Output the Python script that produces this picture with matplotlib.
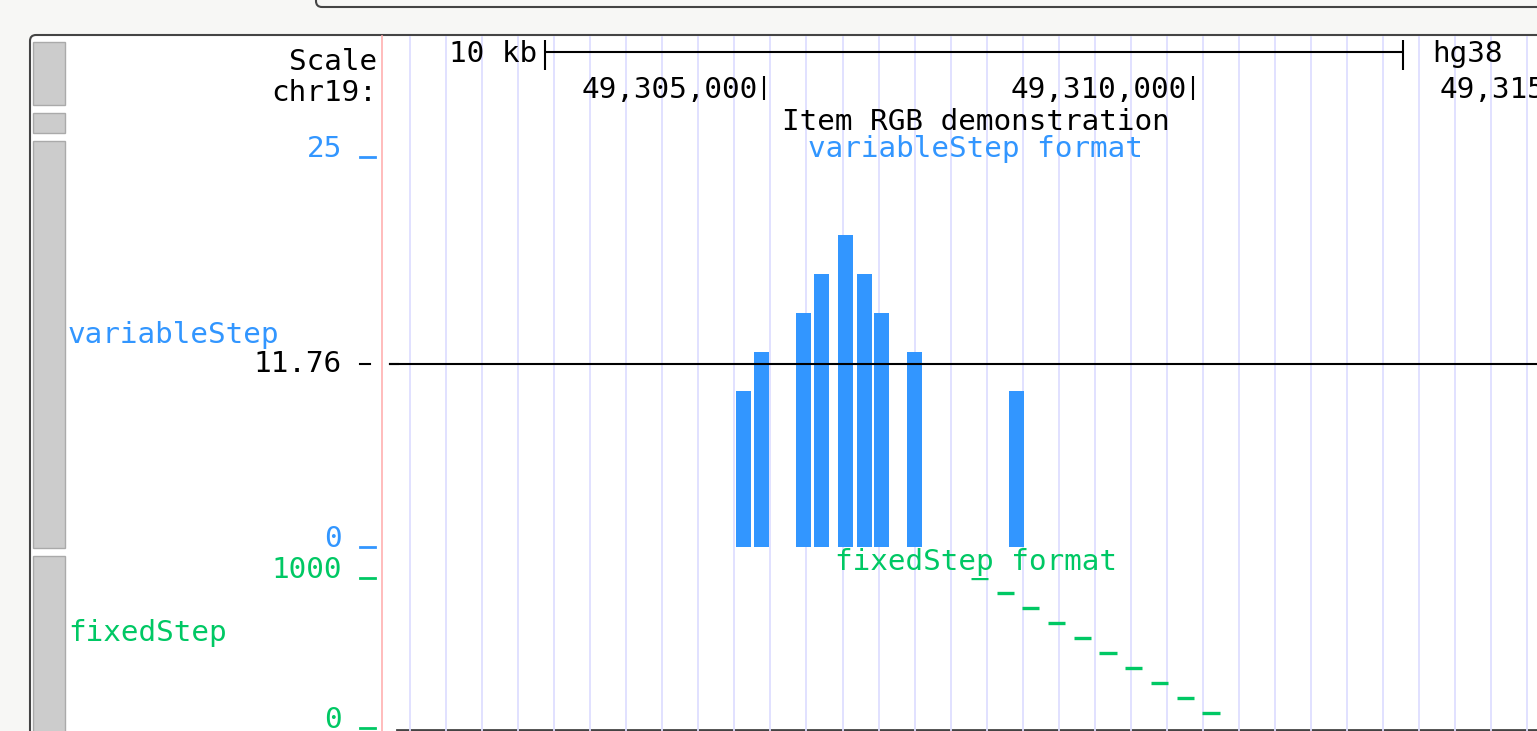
import numpy as np
import matplotlib.pyplot as plt
from matplotlib.patches import Rectangle, FancyBboxPatch
from matplotlib.transforms import blended_transform_factory

W, H = 1537, 731

# browser window on chr19 (hg38)
win_start, win_end = 49300583, 49314009
coord_ticks = [49305000, 49310000, 49315000]
coord_labels = ['49,305,000', '49,310,000', '49,315,000']
scale_bar = (49302450, 49312450)
grid_start, grid_step = 49300875, 420
title_pos = 49307470

# variableStep track
var_start = [49304670, 49304880, 49305370, 49305580, 49305860, 49306080, 49306280, 49306670, 49307860]
var_value = [10.0, 12.5, 15.0, 17.5, 20.0, 17.5, 15.0, 12.5, 10.0]
var_span = 175
var_limits = (0, 25)
y_line_mark = 11.76

# fixedStep track
fix_start = [49307410, 49307710, 49308010, 49308310, 49308610, 49308910, 49309210, 49309510, 49309810, 49310110]
fix_value = [1000, 900, 800, 700, 600, 500, 400, 300, 200, 100]
fix_span = 200
fix_limits = (0, 1000)

blue = '#3296ff'
green = '#00c864'
mono = 'DejaVu Sans Mono'
fs = 21.2


def rect(x0, y0, x1, y1):
    return [x0 / W, 1 - y1 / H, (x1 - x0) / W, (y1 - y0) / H]


fig = plt.figure(figsize=(W / 100, H / 100), dpi=100, facecolor='#f7f7f5')

# pixel-space background axes for the browser chrome
bg = fig.add_axes([0, 0, 1, 1])
bg.set_xlim(0, W)
bg.set_ylim(H, 0)
bg.axis('off')

bg.add_patch(FancyBboxPatch((316, -40), 1400, 47, boxstyle='round,pad=0,rounding_size=6',
                            fc='#f7f7f5', ec='#444444', lw=1.5))
bg.add_patch(FancyBboxPatch((30, 35), 1600, 800, boxstyle='round,pad=0,rounding_size=6',
                            fc='white', ec='#444444', lw=1.5))
for y0, y1 in [(42, 105), (113, 133), (141, 548), (556, 740)]:
    bg.add_patch(Rectangle((33, y0), 32, y1 - y0, fc='#cccccc', ec='#aaaaaa', lw=1))
bg.plot([382, 382], [36, H], color='#ffb0b0', lw=1.2)
bg.plot([397, W], [730, 730], color='#444444', lw=2)

bg.text(377, 70, 'Scale', ha='right', va='baseline', family=mono, fontsize=fs)
bg.text(377, 101, 'chr19:', ha='right', va='baseline', family=mono, fontsize=fs)
bg.text(68, 335, 'variableStep', ha='left', va='center', family=mono, fontsize=fs, color=blue)
bg.text(68, 633, 'fixedStep', ha='left', va='center', family=mono, fontsize=fs, color=green)

# genome axes for grid, ruler and titles (y in pixels)
ax_g = fig.add_axes(rect(385, 36, W, H))
ax_g.set_xlim(win_start, win_end)
ax_g.set_ylim(H, 36)
ax_g.axis('off')
ax_g.patch.set_alpha(0)

grid = np.arange(grid_start, win_end, grid_step)
ax_g.vlines(grid, 36, H, color='#dedeff', lw=1.3, zorder=0)

ax_g.hlines(52, scale_bar[0], scale_bar[1], color='black', lw=1.5)
ax_g.vlines(scale_bar, 40, 70, color='black', lw=1.5)
ax_g.text(scale_bar[0] - 90, 62, '10 kb', ha='right', va='baseline', family=mono, fontsize=fs)
ax_g.text(scale_bar[1] + 340, 62, 'hg38', ha='left', va='baseline', family=mono, fontsize=fs)

ax_g.vlines(coord_ticks, 76, 100, color='black', lw=1.5)
for pos, lab in zip(coord_ticks, coord_labels):
    ax_g.text(pos - 70, 98, lab, ha='right', va='baseline', family=mono, fontsize=fs)

ax_g.text(title_pos, 130, 'Item RGB demonstration', ha='center', va='baseline',
          family=mono, fontsize=fs)
ax_g.text(title_pos, 157, 'variableStep format', ha='center', va='baseline',
          family=mono, fontsize=fs, color=blue)
ax_g.text(title_pos, 570, 'fixedStep format', ha='center', va='baseline',
          family=mono, fontsize=fs, color=green)

# variableStep track axes
ax_v = fig.add_axes(rect(385, 157, W, 547))
ax_v.set_xlim(win_start, win_end)
ax_v.set_ylim(*var_limits)
ax_v.axis('off')
ax_v.patch.set_alpha(0)
ax_v.bar(var_start, var_value, width=var_span, align='edge', color=blue, linewidth=0)
ax_v.axhline(y_line_mark, xmin=0.004, color='black', lw=1.5)

# fixedStep track axes
ax_f = fig.add_axes(rect(385, 578, W, 728))
ax_f.set_xlim(win_start, win_end)
ax_f.set_ylim(*fix_limits)
ax_f.axis('off')
ax_f.patch.set_alpha(0)
ax_f.hlines(fix_value, fix_start, np.array(fix_start) + fix_span, color=green, lw=2.4)

# track y-axis labels
tv = blended_transform_factory(bg.transData, ax_v.transData)
tf = blended_transform_factory(bg.transData, ax_f.transData)
for val, lab in [(var_limits[1], '25'), (var_limits[0], '0')]:
    bg.text(342, val, lab, transform=tv, ha='right', va='baseline', family=mono, fontsize=fs, color=blue)
    bg.plot([360, 375], [val, val], transform=tv, color=blue, lw=2, clip_on=False)
bg.text(342, y_line_mark, '11.76', transform=tv, ha='right', va='center', family=mono, fontsize=fs)
bg.plot([360, 370], [y_line_mark, y_line_mark], transform=tv, color='black', lw=1.5)
bg.plot([390, 398], [y_line_mark, y_line_mark], transform=tv, color='black', lw=1.5)
for val, lab in [(fix_limits[1], '1000'), (fix_limits[0], '0')]:
    bg.text(342, val, lab, transform=tf, ha='right', va='baseline', family=mono, fontsize=fs, color=green)
    bg.plot([360, 375], [val, val], transform=tf, color=green, lw=2, clip_on=False)

fig.savefig('out.png', dpi=100, facecolor=fig.get_facecolor())
